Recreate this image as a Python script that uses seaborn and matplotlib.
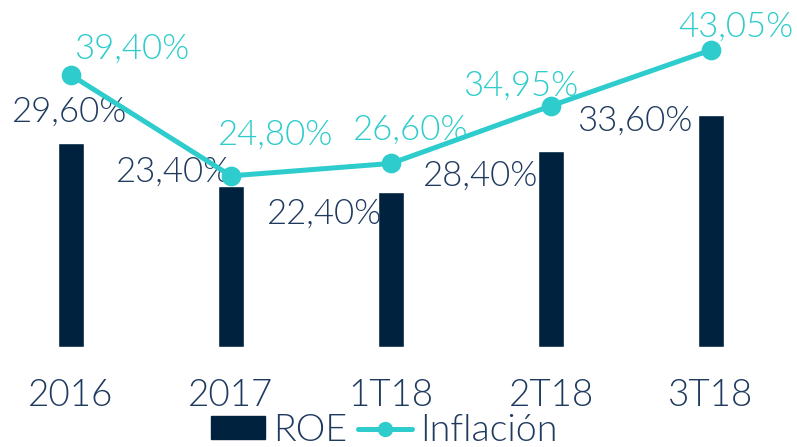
import matplotlib
matplotlib.use("Agg")
import matplotlib.pyplot as plt
import seaborn as sns
import numpy as np
from matplotlib.patches import Patch
from matplotlib.lines import Line2D

categories = ["2016", "2017", "1T18", "2T18", "3T18"]
roe = [29.60, 23.40, 22.40, 28.40, 33.60]
inflacion = [39.40, 24.80, 26.60, 34.95, 43.05]
roe_labels = ["29,60%", "23,40%", "22,40%", "28,40%", "33,60%"]
infl_labels = ["39,40%", "24,80%", "26,60%", "34,95%", "43,05%"]

# label offsets in pixels (dx, dy) relative to the mark
roe_offsets = [(-1, 31), (-57, 14), (-66, -21), (-70, -25), (-76, -5)]
infl_offsets = [(61, 27), (45, 41), (20, 34), (-30, 20), (25, 23)]

BAR = "#00223F"
TEAL = "#2ECCCC"
TXT = "#1F3A5F"
FONT = ["Lato", "DejaVu Sans"]
W = 300

sns.set_theme(style="white")
plt.rcParams["font.family"] = FONT

fig = plt.figure(figsize=(7.97, 4.47), dpi=100)
ax = fig.add_axes([0, 100 / 447, 1, 347 / 447])

sns.barplot(x=categories, y=roe, color=BAR, width=0.1625, saturation=1,
            ax=ax, zorder=2)
sns.pointplot(x=categories, y=inflacion, color=TEAL, markers="o",
              linestyles="-", ax=ax, linewidth=3.6, markersize=11.5,
              zorder=4)

for i, (v, lab, off) in enumerate(zip(roe, roe_labels, roe_offsets)):
    ax.annotate(lab, xy=(i, v), xytext=off, textcoords="offset pixels",
                ha="center", va="center", fontsize=25, color=TXT,
                fontweight=W, zorder=3)
for i, (v, lab, off) in enumerate(zip(inflacion, infl_labels, infl_offsets)):
    ax.annotate(lab, xy=(i, v), xytext=off, textcoords="offset pixels",
                ha="center", va="center", fontsize=25, color=TEAL,
                fontweight=W, zorder=5)

ax.set_xlim(-71 / 160, (797 - 71) / 160)
ax.set_ylim(0, 347 / 6.9)
ax.set_yticks([])
ax.set_xlabel("")
ax.set_ylabel("")
for s in ax.spines.values():
    s.set_visible(False)
ax.tick_params(axis="x", length=0, pad=23, labelsize=26.5, labelcolor=TXT)
for t in ax.get_xticklabels():
    t.set_fontweight(W)

handles = [Patch(facecolor=BAR, edgecolor=BAR),
           Line2D([0], [0], color=TEAL, lw=3.6, marker="o", markersize=10)]
leg = fig.legend(handles, ["ROE", "Inflación"], loc="center",
                 bbox_to_anchor=(0.482, 0.036), ncol=2, frameon=False,
                 fontsize=27, handlelength=1.45, handleheight=0.55,
                 handletextpad=0.2, columnspacing=0.3, borderpad=0,
                 borderaxespad=0)
for t in leg.get_texts():
    t.set_color(TXT)
    t.set_fontweight(W)

fig.savefig("out.png", dpi=100)
